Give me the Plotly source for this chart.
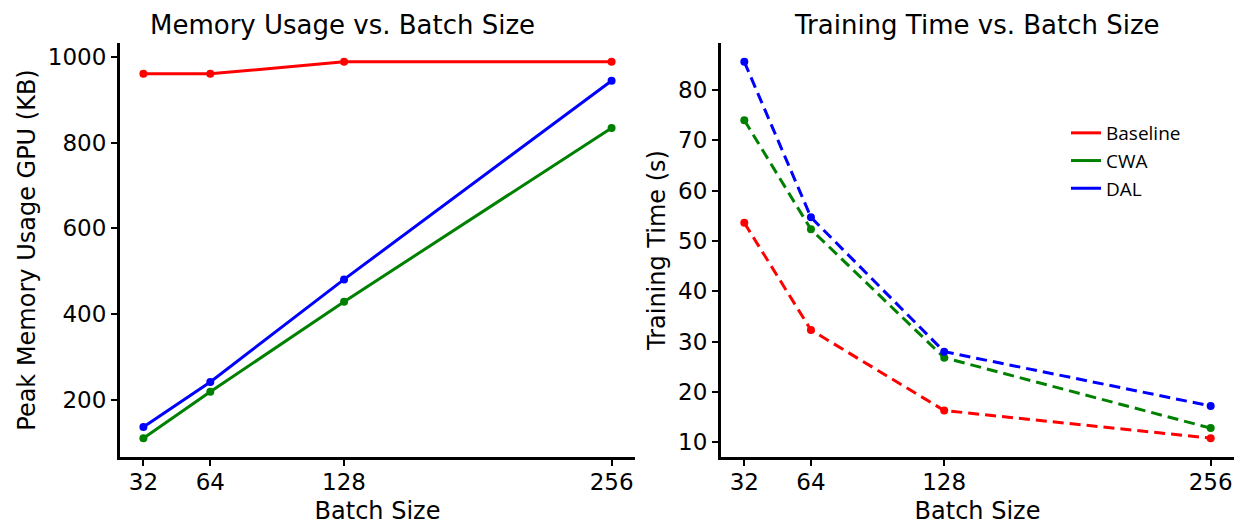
import plotly.graph_objects as go

# Batch sizes evaluated
batch_sizes = [32, 64, 128, 256]

# Peak GPU memory usage (KB)
mem_baseline = [960, 960, 988, 988]
mem_cwa = [111, 219, 429, 834]
mem_dal = [137, 242, 481, 944]

# Training time (s)
time_baseline = [53.6, 32.3, 16.3, 10.8]
time_cwa = [74.0, 52.3, 26.8, 12.8]
time_dal = [85.6, 54.7, 28.0, 17.2]

series_names = ["Baseline", "CWA", "DAL"]
series_colors = ["#ff0000", "#008000", "#0000ff"]

W, H = 1241, 525
FONT = "DejaVu Sans"

fig = go.Figure()

# Left panel: memory usage, solid lines
for name, color, vals in zip(series_names, series_colors, [mem_baseline, mem_cwa, mem_dal]):
    fig.add_trace(go.Scatter(
        x=batch_sizes, y=vals, mode="lines+markers", name=name,
        line=dict(color=color, width=3), marker=dict(color=color, size=8),
        xaxis="x", yaxis="y", showlegend=False,
    ))

# Right panel: training time, dashed lines
for name, color, vals in zip(series_names, series_colors, [time_baseline, time_cwa, time_dal]):
    fig.add_trace(go.Scatter(
        x=batch_sizes, y=vals, mode="lines+markers", name=name,
        line=dict(color=color, width=3, dash="11px,6px"), marker=dict(color=color, size=8),
        xaxis="x2", yaxis="y2", showlegend=False,
    ))

# Legend entries drawn with solid lines
for name, color in zip(series_names, series_colors):
    fig.add_trace(go.Scatter(
        x=[None], y=[None], mode="lines", name=name,
        line=dict(color=color, width=3), xaxis="x2", yaxis="y2", showlegend=True,
    ))


def pad_range(lo, hi, frac=0.05):
    span = hi - lo
    return [lo - frac * span, hi + frac * span]


x_range = pad_range(min(batch_sizes), max(batch_sizes))
mem_all = mem_baseline + mem_cwa + mem_dal
time_all = time_baseline + time_cwa + time_dal

tick_font = dict(family=FONT, size=23, color="black")
label_font = dict(family=FONT, size=24, color="black")

axis_common = dict(
    showline=True, linewidth=3, linecolor="black", mirror=False,
    ticks="outside", ticklen=6, tickwidth=2, tickcolor="black",
    showgrid=False, zeroline=False, tickfont=tick_font,
)

y_dom = [(H - 457) / H, (H - 43) / H]

fig.update_layout(
    width=W, height=H,
    margin=dict(l=0, r=0, t=0, b=0),
    paper_bgcolor="white", plot_bgcolor="white",
    xaxis=dict(domain=[120 / W, 635 / W], range=x_range, tickvals=batch_sizes,
               ticklabelstandoff=-4,
               title=dict(text="Batch Size", font=label_font, standoff=10), anchor="y",
               **axis_common),
    yaxis=dict(domain=y_dom, range=pad_range(min(mem_all), max(mem_all)),
               tickvals=[200, 400, 600, 800, 1000],
               title=dict(text="Peak Memory Usage GPU (KB)", font=label_font, standoff=6),
               anchor="x", **axis_common),
    xaxis2=dict(domain=[721 / W, 1234 / W], range=x_range, tickvals=batch_sizes,
                ticklabelstandoff=-4,
                title=dict(text="Batch Size", font=label_font, standoff=10), anchor="y2",
                **axis_common),
    yaxis2=dict(domain=y_dom, range=pad_range(min(time_all), max(time_all)),
                tickvals=[10, 20, 30, 40, 50, 60, 70, 80],
                title=dict(text="Training Time (s)", font=label_font, standoff=6),
                anchor="x2", **axis_common),
    legend=dict(x=1066 / W, y=(H - 114) / H, xanchor="left", yanchor="top",
                bgcolor="rgba(0,0,0,0)", borderwidth=0,
                font=dict(family="Open Sans", size=19, color="black"),
                tracegroupgap=0, itemwidth=30),
    annotations=[
        dict(text="Memory Usage vs. Batch Size", x=342 / W, y=(H - 25) / H,
             xref="paper", yref="paper", showarrow=False, xanchor="center", yanchor="middle",
             font=dict(family=FONT, size=26, color="black")),
        dict(text="Training Time vs. Batch Size", x=977 / W, y=(H - 25) / H,
             xref="paper", yref="paper", showarrow=False, xanchor="center", yanchor="middle",
             font=dict(family=FONT, size=26, color="black")),
    ],
)

fig.write_html("out.html")
